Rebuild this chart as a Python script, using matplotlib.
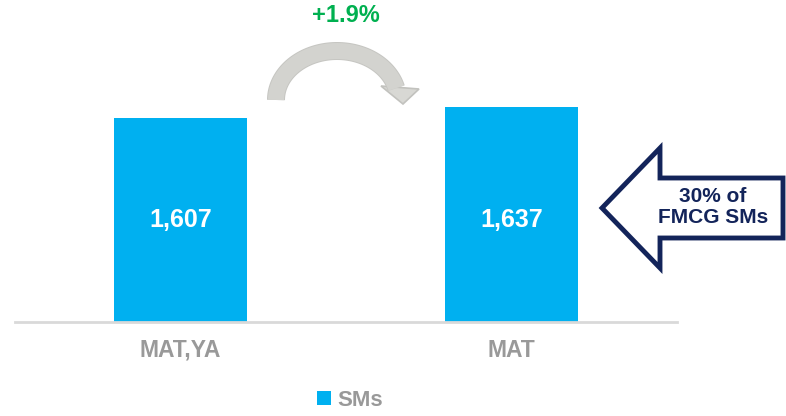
import matplotlib
matplotlib.use("Agg")
import numpy as np
import matplotlib.pyplot as plt
from matplotlib.patches import Polygon
from matplotlib.lines import Line2D

plt.rcParams['font.family'] = ['Liberation Sans', 'DejaVu Sans']

categories = ["MAT,YA", "MAT"]
values = [1607, 1637]
value_labels = ["1,607", "1,637"]
series_name = "SMs"
growth_label = "+1.9%"
callout_label = "30% of\nFMCG SMs"

W, H = 786, 416
YMIN, YMAX = 1050, 1930
fig = plt.figure(figsize=(W / 100, H / 100), dpi=100)

ax = fig.add_axes([15 / W, (H - 322) / H, (677 - 15) / W, 322 / H])
x = list(range(len(categories)))
bars = ax.bar(x, values, width=0.4, color="#00b0f0", label=series_name, zorder=2)
ax.set_xlim(-0.5, 1.5)
ax.set_ylim(YMIN, YMAX)
ax.set_yticks([])
ax.set_xticks(x)
ax.set_xticklabels(categories)
for t in ax.get_xticklabels():
    t.set_fontweight("bold")
    t.set_fontsize(16.5)
    t.set_color("#999999")
ax.tick_params(axis="x", length=0, pad=12)
for s in ["top", "right", "left"]:
    ax.spines[s].set_visible(False)
ax.spines["bottom"].set_color("#d9d9d9")
ax.spines["bottom"].set_linewidth(2)

label_y = (values[0] + YMIN) / 2
for b, lab in zip(bars, value_labels):
    ax.text(b.get_x() + b.get_width() / 2, label_y, lab, ha="center", va="center",
            color="white", fontsize=18, fontweight="bold")


def fx(px):
    return px / W


def fy(py):
    return (H - py) / H


# growth label
fig.text(fx(346), fy(15), growth_label, color="#00b050", fontsize=17, fontweight="bold",
         ha="center", va="center")

# curved arrow: elliptical shaft + triangular head (pixel geometry)
cx, cy, rx, ry = 337, 100, 61, 49
ang = np.radians(np.linspace(180, 14, 80))
ax_px = cx + rx * np.cos(ang)
ay_px = cy - ry * np.sin(ang)
shaft_w = 16
fig.add_artist(Line2D(fx(ax_px), fy(ay_px), transform=fig.transFigure,
                      color="#c6c6c2", linewidth=(shaft_w + 2) * 72 / 100,
                      solid_capstyle="butt"))
fig.add_artist(Line2D(fx(ax_px), fy(ay_px), transform=fig.transFigure,
                      color="#d3d3cf", linewidth=shaft_w * 72 / 100,
                      solid_capstyle="butt"))
head = [(381, 86), (419, 89), (403, 104)]
fig.add_artist(Polygon([(fx(a), fy(b)) for a, b in head], closed=True,
                       transform=fig.transFigure, facecolor="#d8d8d4",
                       edgecolor="#c2c2be", linewidth=1.2))

# callout arrow
pts_px = [(602, 208), (660, 148), (660, 178), (783, 178), (783, 238),
          (660, 238), (660, 268)]
poly = Polygon([(fx(a), fy(b)) for a, b in pts_px], closed=True,
               transform=fig.transFigure, facecolor="white",
               edgecolor="#13245a", linewidth=3.5, joinstyle="miter")
fig.add_artist(poly)
fig.text(fx(713), fy(207), callout_label, color="#13245a", fontsize=15,
         fontweight="bold", ha="center", va="center", linespacing=1.12)

leg = fig.legend(handles=[bars], labels=[series_name], loc="center",
                 bbox_to_anchor=(fx(350), fy(400)), frameon=False,
                 handlelength=0.6, handleheight=0.6, handletextpad=0.3,
                 prop={"weight": "bold", "size": 16})
for t in leg.get_texts():
    t.set_color("#999999")
    t.set_fontweight("bold")

fig.savefig("out.png", dpi=100)
